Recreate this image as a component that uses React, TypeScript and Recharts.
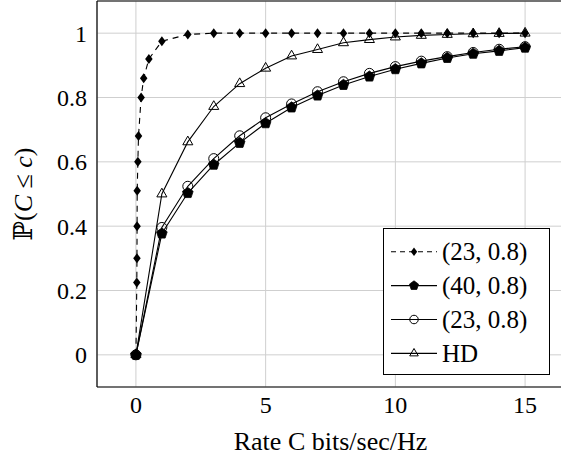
import React from 'react';
import { LineChart, Line, XAxis, YAxis, CartesianGrid, Legend, ReferenceLine } from 'recharts';

// rate values (bits/sec/Hz) for the dense (23, 0.8) curve
const rateDense = [0, 0.035, 0.04, 0.045, 0.05, 0.075, 0.1, 0.2, 0.3, 0.5, 1, 2, 3, 4, 5, 6, 7, 8, 9, 10, 11, 12, 13, 14, 15];
const cdfDense = [0, 0.225, 0.3, 0.4, 0.51, 0.6, 0.68, 0.8, 0.86, 0.92, 0.975, 0.996, 1, 1, 1, 1, 1, 1, 1, 1, 1, 1, 1, 1, 1];

// integer rates shared by the other three curves
const rate = [0, 1, 2, 3, 4, 5, 6, 7, 8, 9, 10, 11, 12, 13, 14, 15];
const cdf40 = [0, 0.377, 0.503, 0.591, 0.659, 0.72, 0.769, 0.806, 0.839, 0.865, 0.888, 0.906, 0.923, 0.936, 0.945, 0.955];
const cdf23 = [0, 0.396, 0.524, 0.61, 0.681, 0.737, 0.78, 0.818, 0.849, 0.875, 0.896, 0.913, 0.927, 0.94, 0.95, 0.958];
const cdfHD = [0, 0.5, 0.662, 0.772, 0.843, 0.891, 0.929, 0.949, 0.97, 0.98, 0.988, 0.993, 0.996, 0.998, 0.999, 1];

const xTicks = [0, 5, 10, 15];
const yTicks = [0, 0.2, 0.4, 0.6, 0.8, 1];

const FONT = 'Liberation Serif, Times New Roman, DejaVu Serif, serif';

const toPoints = (xs: number[], ys: number[]) => xs.map((x, i) => ({ x, y: ys[i] }));

type Mark = { cx?: number; cy?: number; s?: number };

const Diamond = ({ cx = 0, cy = 0, s = 1 }: Mark) => {
  const h = 5 * s;
  const w = 3.75 * s;
  return <path d={`M${cx},${cy - h}L${cx + w},${cy}L${cx},${cy + h}L${cx - w},${cy}Z`} fill="#000" />;
};

const Pentagon = ({ cx = 0, cy = 0, s = 1 }: Mark) => {
  const r = 5.6 * s;
  const pts = [0, 1, 2, 3, 4]
    .map((k) => {
      const a = ((-90 + k * 72) * Math.PI) / 180;
      return `${cx + r * Math.cos(a)},${cy + r * Math.sin(a)}`;
    })
    .join(' ');
  return <polygon points={pts} fill="#000" stroke="#000" strokeWidth={0.8} />;
};

const Circle = ({ cx = 0, cy = 0, s = 1 }: Mark) => (
  <circle cx={cx} cy={cy} r={5 * s} fill="none" stroke="#000" strokeWidth={1} />
);

const Triangle = ({ cx = 0, cy = 0, s = 1 }: Mark) => {
  const r = 5.8 * s;
  return (
    <path
      d={`M${cx},${cy - r}L${cx + 0.866 * r},${cy + 0.5 * r}L${cx - 0.866 * r},${cy + 0.5 * r}Z`}
      fill="none"
      stroke="#000"
      strokeWidth={1}
    />
  );
};

const series = [
  { name: '(23, 0.8)', data: toPoints(rateDense, cdfDense), Marker: Diamond, dash: '6 5' },
  { name: '(40, 0.8)', data: toPoints(rate, cdf40), Marker: Pentagon, dash: undefined },
  { name: '(23, 0.8)', data: toPoints(rate, cdf23), Marker: Circle, dash: undefined },
  { name: 'HD', data: toPoints(rate, cdfHD), Marker: Triangle, dash: undefined },
];

const renderLegend = () => (
  <svg width={168} height={148} style={{ display: 'block', fontFamily: FONT }}>
    <rect x={0.5} y={0.5} width={166} height={146} fill="#fff" stroke="#000" strokeWidth={1} />
    {series.map((s, i) => {
      const y = 23.7 + i * 33.9;
      const M = s.Marker;
      return (
        <g key={i}>
          <line x1={8} x2={54} y1={y} y2={y} stroke="#000" strokeWidth={1.1} strokeDasharray={s.dash ? '5 4' : undefined} />
          <M cx={31} cy={y} s={0.85} />
          <text x={59} y={y} dy="0.35em" fontSize={25} style={{ fontFamily: FONT }} fill="#000">
            {s.name}
          </text>
        </g>
      );
    })}
  </svg>
);

const YLabel = (props: any) => {
  const vb = props.viewBox || {};
  const cx = 23;
  const cy = vb.y + vb.height / 2;
  return (
    <text
      x={cx}
      y={cy}
      transform={`rotate(-90 ${cx} ${cy})`}
      textAnchor="middle"
      dy="0.35em"
      fontSize={26}
      style={{ fontFamily: FONT }}
      fill="#000"
    >
      {'ℙ('}
      <tspan fontStyle="italic">C</tspan>
      {' ≤ '}
      <tspan fontStyle="italic">c</tspan>
      {')'}
    </text>
  );
};

const XLabel = (props: any) => {
  const vb = props.viewBox || {};
  return (
    <text x={vb.x + vb.width / 2} y={vb.y + 63} textAnchor="middle" fontSize={26} style={{ fontFamily: FONT }} fill="#000">
      Rate C bits/sec/Hz
    </text>
  );
};

export default function App() {
  const tickStyle = { fill: '#000', fontSize: 24, fontFamily: FONT, style: { fontFamily: FONT } };
  return (
    <div
      style={{
        position: 'absolute',
        left: 0,
        top: 0,
        width: 561,
        height: 457,
        overflow: 'hidden',
        background: '#fff',
        fontFamily: FONT,
      }}
    >
      <LineChart width={565} height={457} margin={{ top: 1, right: 1, bottom: 0, left: 0 }} style={{ fontFamily: FONT }}>
        <CartesianGrid stroke="#cfcfcf" strokeWidth={1} />
        <XAxis
          type="number"
          dataKey="x"
          domain={[-1.5, 16.5]}
          ticks={xTicks}
          height={70}
          tickSize={0}
          tickMargin={9}
          tickLine={false}
          axisLine={{ stroke: '#000', strokeWidth: 1.2 }}
          tick={tickStyle}
          label={<XLabel />}
          allowDataOverflow
        />
        <YAxis
          type="number"
          dataKey="y"
          domain={[-0.1, 1.1]}
          ticks={yTicks}
          width={97}
          tickSize={0}
          tickMargin={10}
          tickLine={false}
          axisLine={{ stroke: '#000', strokeWidth: 1.2 }}
          tick={tickStyle}
          label={<YLabel />}
          allowDataOverflow
        />
        <ReferenceLine y={1.1} stroke="#000" strokeWidth={1.2} />
        {series.map((s, i) => {
          const M = s.Marker;
          return (
            <Line
              key={i}
              data={s.data}
              dataKey="y"
              name={s.name}
              type="linear"
              stroke="#000"
              strokeWidth={1.1}
              strokeDasharray={s.dash}
              isAnimationActive={false}
              activeDot={false}
              dot={(p: any) => <M key={`m-${i}-${p.index}`} cx={p.cx} cy={p.cy} />}
            />
          );
        })}
        <Legend
          layout="vertical"
          align="center"
          verticalAlign="middle"
          content={renderLegend}
          wrapperStyle={{ left: 383, top: 228, width: 168, height: 148 }}
        />
      </LineChart>
    </div>
  );
}
